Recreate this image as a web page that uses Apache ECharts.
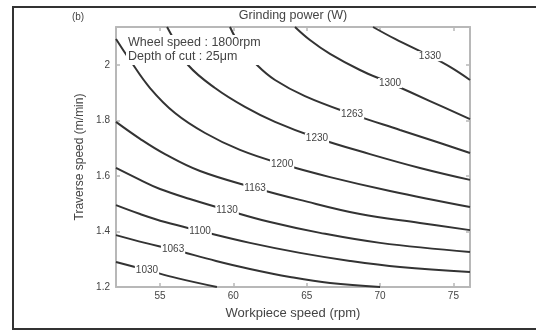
<!DOCTYPE html>
<html>
<head>
<meta charset="utf-8">
<script src="https://cdn.jsdelivr.net/npm/echarts@6/dist/echarts.min.js"></script>
<style>
  html, body { margin: 0; padding: 0; background: #fff; }
  #chart { width: 539px; height: 331px; }
</style>
</head>
<body>
<div id="chart"></div>
<script>
// Grinding power contours over workpiece speed (rpm) and traverse speed (m/min)
const levels = [1030, 1063, 1100, 1130, 1163, 1200, 1230, 1263, 1300, 1330];

// Each contour: [workpiece speed, traverse speed] pairs along the iso-power line
const contour1030 = [[52, 1.290], [54.11, 1.261], [56.16, 1.232], [58.88, 1.2]];
const contour1063 = [[52, 1.387], [53.98, 1.359], [55.89, 1.335], [58.82, 1.294], [61.13, 1.265], [63.86, 1.236], [66.59, 1.214], [70.0, 1.2]];
const contour1100 = [[52, 1.495], [53.64, 1.463], [55.34, 1.434], [57.73, 1.402], [61.13, 1.359], [64.54, 1.323], [67.95, 1.294], [71.36, 1.272], [76.13, 1.254]];
const contour1130 = [[52, 1.629], [53.64, 1.586], [55.0, 1.553], [57.04, 1.517], [59.57, 1.477], [62.50, 1.434], [65.91, 1.395], [70.0, 1.359], [76.13, 1.326]];
const contour1163 = [[52, 1.795], [53.64, 1.734], [55.34, 1.679], [57.73, 1.618], [61.48, 1.557], [64.54, 1.514], [68.63, 1.463], [72.72, 1.431], [76.13, 1.405]];
const contour1200 = [[52, 2.094], [52.95, 2.018], [54.32, 1.917], [56.02, 1.827], [58.07, 1.755], [60.45, 1.694], [63.32, 1.643], [66.59, 1.596], [70.68, 1.546], [76.13, 1.488]];
const contour1230 = [[55.48, 2.137], [56.16, 2.072], [56.91, 2.0], [58.75, 1.917], [60.79, 1.849], [62.84, 1.795], [65.70, 1.737], [69.31, 1.679], [72.72, 1.629], [76.13, 1.586]];
const contour1263 = [[59.77, 2.137], [60.45, 2.072], [61.61, 2.0], [62.84, 1.946], [64.88, 1.888], [68.09, 1.823], [71.36, 1.766], [74.09, 1.719], [76.13, 1.683]];
const contour1300 = [[64.20, 2.137], [65.22, 2.090], [66.59, 2.040], [68.63, 1.982], [70.68, 1.935], [73.40, 1.870], [76.13, 1.805]];
const contour1330 = [[69.52, 2.137], [71.02, 2.094], [73.40, 2.032], [74.77, 1.993], [76.13, 1.946]];

const contours = [contour1030, contour1063, contour1100, contour1130, contour1163,
                  contour1200, contour1230, contour1263, contour1300, contour1330];
// index of the point on each contour that carries its inline level label
const labelIndex = [1, 2, 3, 4, 4, 6, 6, 5, 4, 2];

const xTicks = [55, 60, 65, 70, 75];
const yTicks = [1.2, 1.4, 1.6, 1.8, 2.0];

const xRange = [52, 76.13];
const yRange = [1.2, 2.137];

const textColor = '#444';
const boxColor = '#b8b8b8';
const lineColor = '#333';
const fontFamily = 'Liberation Sans, Arial, sans-serif';

const chart = echarts.init(document.getElementById('chart'), null, { renderer: 'canvas' });

function axisBase(extra) {
  return Object.assign({
    type: 'value',
    splitLine: { show: false },
    axisLine: { show: true, onZero: false, lineStyle: { color: boxColor, width: 2 } },
  }, extra);
}

function ticks(values) {
  return { show: true, inside: true, length: 4, customValues: values, lineStyle: { color: boxColor, width: 1.5 } };
}

const series = contours.map((pts, i) => {
  const lp = pts[labelIndex[i]];
  return {
    type: 'line',
    name: String(levels[i]),
    data: pts,
    smooth: 0.4,
    showSymbol: false,
    symbol: 'none',
    clip: true,
    lineStyle: { color: lineColor, width: 2 },
    silent: true,
    markPoint: {
      symbol: 'rect',
      symbolSize: 1,
      itemStyle: { color: 'rgba(0,0,0,0)' },
      label: {
        show: true,
        position: 'inside',
        formatter: String(levels[i]),
        color: textColor,
        fontSize: 10,
        fontFamily: fontFamily,
        backgroundColor: '#fff',
        padding: [0, 1]
      },
      data: [{ coord: lp }]
    },
    z: 3
  };
});

chart.setOption({
  animation: false,
  backgroundColor: '#fff',
  grid: { left: 116, right: 69, top: 27, bottom: 44 },
  xAxis: [
    axisBase({
      min: xRange[0], max: xRange[1], position: 'bottom',
      name: 'Workpiece speed (rpm)', nameLocation: 'middle', nameGap: 20,
      nameTextStyle: { color: textColor, fontSize: 13, fontFamily: fontFamily },
      axisTick: ticks(xTicks),
      axisLabel: { customValues: xTicks, color: textColor, fontSize: 10, fontFamily: fontFamily, margin: 4 }
    }),
    axisBase({
      min: xRange[0], max: xRange[1], position: 'top',
      name: 'Grinding power (W)', nameLocation: 'middle', nameGap: 5,
      nameTextStyle: { color: textColor, fontSize: 12.5, fontFamily: fontFamily },
      axisTick: ticks(xTicks),
      axisLabel: { show: false }
    })
  ],
  yAxis: [
    axisBase({
      min: yRange[0], max: yRange[1], position: 'left',
      name: 'Traverse speed (m/min)', nameLocation: 'middle', nameGap: 23,
      nameTextStyle: { color: textColor, fontSize: 12, fontFamily: fontFamily },
      axisTick: ticks(yTicks),
      axisLabel: {
        customValues: yTicks, color: textColor, fontSize: 10, fontFamily: fontFamily, margin: 6,
        formatter: v => String(+(+v).toFixed(1))
      }
    }),
    axisBase({
      min: yRange[0], max: yRange[1], position: 'right',
      axisTick: ticks(yTicks),
      axisLabel: { show: false }
    })
  ],
  graphic: [
    {
      // outer figure frame: top, left and bottom edges (open on the right)
      type: 'polyline',
      shape: { points: [[536, 7], [13, 7], [13, 329], [536, 329]] },
      style: { fill: null, stroke: '#333', lineWidth: 2 },
      silent: true,
      z: 10
    },
    {
      type: 'text',
      x: 78, y: 17,
      style: { text: '(b)', fill: textColor, fontSize: 10, fontFamily: fontFamily, align: 'center', verticalAlign: 'middle' },
      z: 10
    },
    {
      type: 'text',
      x: 126, y: 35,
      style: {
        text: 'Wheel speed : 1800rpm\nDepth of cut : 25\u03bcm',
        fill: textColor, fontSize: 12.5, fontFamily: fontFamily, lineHeight: 14,
        backgroundColor: '#fff', padding: [1, 2]
      },
      z: 10
    }
  ],
  series: series
});
</script>
</body>
</html>
